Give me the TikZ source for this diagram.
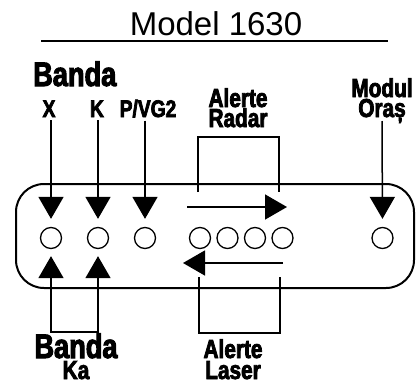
\documentclass[tikz,border=0pt]{standalone}
\usepackage{fontspec}
\setmainfont{Liberation Sans}
\newfontfamily\condfont[FakeStretch=0.8,FakeBold=3]{Liberation Sans Bold}
\usetikzlibrary{arrows.meta}

\begin{document}
\begin{tikzpicture}[
    x=1pt, y=-1pt,
    lamp/.style={circle, draw, line width=1.3pt, minimum size=21pt, inner sep=0pt},
    lbl/.style={anchor=base, inner sep=0pt, font=\condfont\fontsize{24}{24}\selectfont},
    midlbl/.style={anchor=base, inner sep=0pt, font=\condfont\fontsize{26}{26}\selectfont},
    biglbl/.style={anchor=base, inner sep=0pt, font=\condfont\fontsize{34}{34}\selectfont},
    wire/.style={draw, line width=1.5pt},
    tip/.style={wire, -{Triangle[length=22pt, width=25pt]}},
    tiptip/.style={wire, {Triangle[length=22pt, width=25pt]}-{Triangle[length=22pt, width=25pt]}}
]
  \useasboundingbox (0,0) rectangle (417,383);
  % title
  \node[anchor=base, inner sep=0pt, font=\fontsize{33}{33}\selectfont] (title) at (216,35) {Model 1630};
  \draw[line width=1.5pt] (41,41) -- (388,41);
  % panel
  \node[draw, line width=2pt, rounded corners=28pt, minimum width=398pt, minimum height=104pt, inner sep=0pt] (panel) at (215,236) {};
  % lamps
  \foreach \i/\x in {1/51, 2/98, 3/145, 4/200, 5/227.5, 6/255, 7/282.5, 8/382.5} {
    \node[lamp] (c\i) at (\x,238) {};
  }
  % top labels
  \node[biglbl, anchor=base west] (banda) at (33,86) {Banda};
  \node[lbl] (lb1) at (49,117) {X};
  \node[lbl] (lb2) at (97,117) {K};
  \node[lbl] (lb3) at (148,117) {P/VG2};
  \node[midlbl] (radar1) at (238,107) {Alerte};
  \node[midlbl] (radar2) at (238,127) {Radar};
  \node[midlbl] (oras1) at (382,97) {Modul};
  \node[midlbl] (oras2) at (382,117) {Oraș};
  \foreach \i in {1,2,3} {
    \draw[tip, shorten <=3pt, shorten >=8pt] (lb\i.south -| c\i) -- (c\i.north);
  }
  \draw[tip, shorten >=8pt] (382,121) -- (c8.north);
  % radar bracket and arrow
  \coordinate (ra) at (198,192);
  \coordinate (rb) at (279,192);
  \draw[wire] (ra) |- (279,137) -- (rb);
  \coordinate (rs) at (187,207);
  \coordinate (re) at (287,207);
  \draw[tip] (rs) -- (re);
  % laser arrow and bracket
  \coordinate (ls) at (283,263);
  \coordinate (le) at (183,263);
  \draw[tip] (ls) -- (le);
  \coordinate (la) at (199,277);
  \coordinate (lb) at (280,277);
  \draw[wire] (la) |- (280,333) -- (lb);
  % bottom labels
  \node[biglbl] (bandab) at (76,358) {Banda};
  \node[midlbl] (ka) at (76,379) {Ka};
  \node[midlbl] (laser1) at (233,358) {Alerte};
  \node[midlbl] (laser2) at (233,379) {Laser};
  % Ka bracket
  \draw[tiptip, shorten <=7pt, shorten >=7pt] (c1.south) -- (c1.south |- 0,332) -- (c2.south |- 0,332) -- (c2.south);
\end{tikzpicture}
\end{document}
